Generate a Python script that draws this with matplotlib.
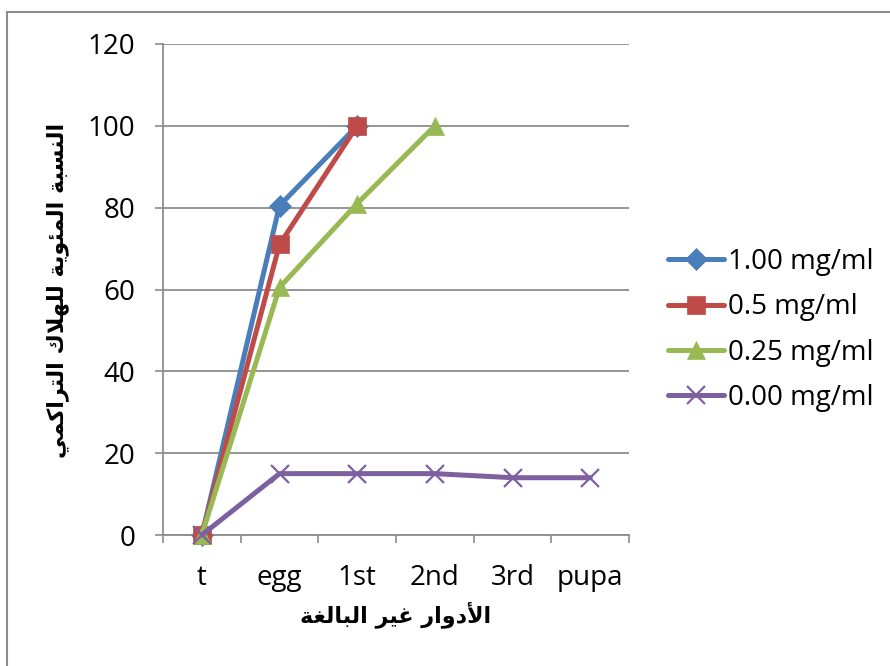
import matplotlib
matplotlib.use("Agg")
import matplotlib.pyplot as plt
from matplotlib.patches import Rectangle
from matplotlib.ticker import FixedLocator

stages = ["t", "egg", "1st", "2nd", "3rd", "pupa"]
series_labels = ["1.00 mg/ml", "0.5 mg/ml", "0.25 mg/ml", "0.00 mg/ml"]
# cumulative mortality (%) per stage, None where the series stops
mort_100 = [0, 80.5, 100, None, None, None]
mort_050 = [0, 71, 100, None, None, None]
mort_025 = [0, 60.5, 81, 100, None, None]
mort_000 = [0, 15, 15, 15, 14, 14]

xlabel_ar = "الأدوار غير البالغة"
ylabel_ar = "النسبة المئوية للهلاك التراكمي"

colors = ["#4A7EBB", "#BE4B48", "#98B954", "#7D60A0"]
markers = ["D", "s", "^", "x"]
msizes = [11, 13, 13, 13]

# --- minimal arabic shaping (presentation forms), matplotlib has no CTL ---
FORMS = {  # iso, fin, ini, med (ini/med None -> joins right only)
    "ا": (0xFE8D, 0xFE8E, None, None),
    "أ": (0xFE83, 0xFE84, None, None),
    "ب": (0xFE8F, 0xFE90, 0xFE91, 0xFE92),
    "ة": (0xFE93, 0xFE94, None, None),
    "ت": (0xFE95, 0xFE96, 0xFE97, 0xFE98),
    "د": (0xFEA9, 0xFEAA, None, None),
    "ر": (0xFEAD, 0xFEAE, None, None),
    "س": (0xFEB1, 0xFEB2, 0xFEB3, 0xFEB4),
    "غ": (0xFECD, 0xFECE, 0xFECF, 0xFED0),
    "ك": (0xFED9, 0xFEDA, 0xFEDB, 0xFEDC),
    "ل": (0xFEDD, 0xFEDE, 0xFEDF, 0xFEE0),
    "م": (0xFEE1, 0xFEE2, 0xFEE3, 0xFEE4),
    "ن": (0xFEE5, 0xFEE6, 0xFEE7, 0xFEE8),
    "ه": (0xFEE9, 0xFEEA, 0xFEEB, 0xFEEC),
    "و": (0xFEED, 0xFEEE, None, None),
    "ي": (0xFEF1, 0xFEF2, 0xFEF3, 0xFEF4),
    "ئ": (0xFE89, 0xFE8A, 0xFE8B, 0xFE8C),
}
LAM_ALEF = {"ا": (0xFEFB, 0xFEFC), "أ": (0xFEF7, 0xFEF8)}


def shape(text):
    out = []
    for word in text.split(" "):
        # merge lam + alef into single ligature tokens
        toks = []
        i = 0
        while i < len(word):
            if word[i] == "ل" and i + 1 < len(word) and word[i + 1] in LAM_ALEF:
                toks.append(("LA", word[i + 1]))
                i += 2
            else:
                toks.append(("C", word[i]))
                i += 1

        def dual(t):
            return t[0] == "C" and FORMS[t[1]][2] is not None

        glyphs = ""
        for k, t in enumerate(toks):
            prev = k > 0 and dual(toks[k - 1])
            if t[0] == "LA":
                iso, fin = LAM_ALEF[t[1]]
                glyphs += chr(fin if prev else iso)
                continue
            iso, fin, ini, med = FORMS[t[1]]
            nxt = k + 1 < len(toks) and ini is not None
            if prev and nxt:
                c = med
            elif prev:
                c = fin
            elif nxt:
                c = ini
            else:
                c = iso
            glyphs += chr(c)
        out.append(glyphs)
    return " ".join(out)[::-1]


plt.rcParams["font.family"] = ["Open Sans", "DejaVu Sans"]

fig = plt.figure(figsize=(8.9, 6.66), dpi=100)
ax = fig.add_axes([163 / 890, 1 - 535 / 666, 466 / 890, 491 / 666])

# chart area border (cut off at right/bottom)
fig.patches.append(Rectangle((7 / 890, -0.1), 1.2, (666 - 12) / 666 + 0.1,
                             transform=fig.transFigure, fill=False,
                             edgecolor="#8C8C8C", linewidth=1.5))

x = list(range(len(stages)))
for vals, lab, c, m, ms in zip([mort_100, mort_050, mort_025, mort_000],
                               series_labels, colors, markers, msizes):
    xs = [i for i, v in zip(x, vals) if v is not None]
    ys = [v for v in vals if v is not None]
    ax.plot(xs, ys, color=c, lw=3.6, marker=m, markersize=ms,
            markeredgewidth=1.6 if m == "x" else 0.5, markeredgecolor=c,
            markerfacecolor=c, label=lab, solid_capstyle="round",
            clip_on=False, zorder=3)

ax.set_xlim(-0.5, len(stages) - 0.5)
ax.set_ylim(0, 120)
ax.set_yticks(range(0, 121, 20))
ax.set_xticks(x)
ax.set_xticklabels(stages)
ax.xaxis.set_minor_locator(FixedLocator([i - 0.5 for i in range(len(stages) + 1)]))
ax.tick_params(axis="x", which="major", length=0, pad=21, labelsize=20)
ax.tick_params(axis="x", which="minor", length=6, width=1.2, color="#8C8C8C", direction="out")
ax.tick_params(axis="y", length=6, width=1.2, color="#8C8C8C", pad=14, labelsize=20)

ax.grid(axis="y", color="#8C8C8C", linewidth=1.3)
ax.set_axisbelow(True)
for s in ["top", "right"]:
    ax.spines[s].set_visible(False)
for s in ["left", "bottom"]:
    ax.spines[s].set_color("#8C8C8C")
    ax.spines[s].set_linewidth(1.3)

fig.text(396 / 890, 1 - 615 / 666, shape(xlabel_ar), ha="center", va="center",
         fontsize=16, fontweight="bold", family="DejaVu Sans")
fig.text(58 / 890, 1 - 290 / 666, shape(ylabel_ar), ha="center", va="center",
         rotation=90, fontsize=16, fontweight="bold", family="DejaVu Sans")

fig.legend(loc="center left", bbox_to_anchor=(657 / 890, 1 - 330 / 666),
           frameon=False, fontsize=20, handlelength=2.0, handletextpad=0.15,
           labelspacing=0.62, borderaxespad=0)

fig.savefig("out.png", dpi=100)
